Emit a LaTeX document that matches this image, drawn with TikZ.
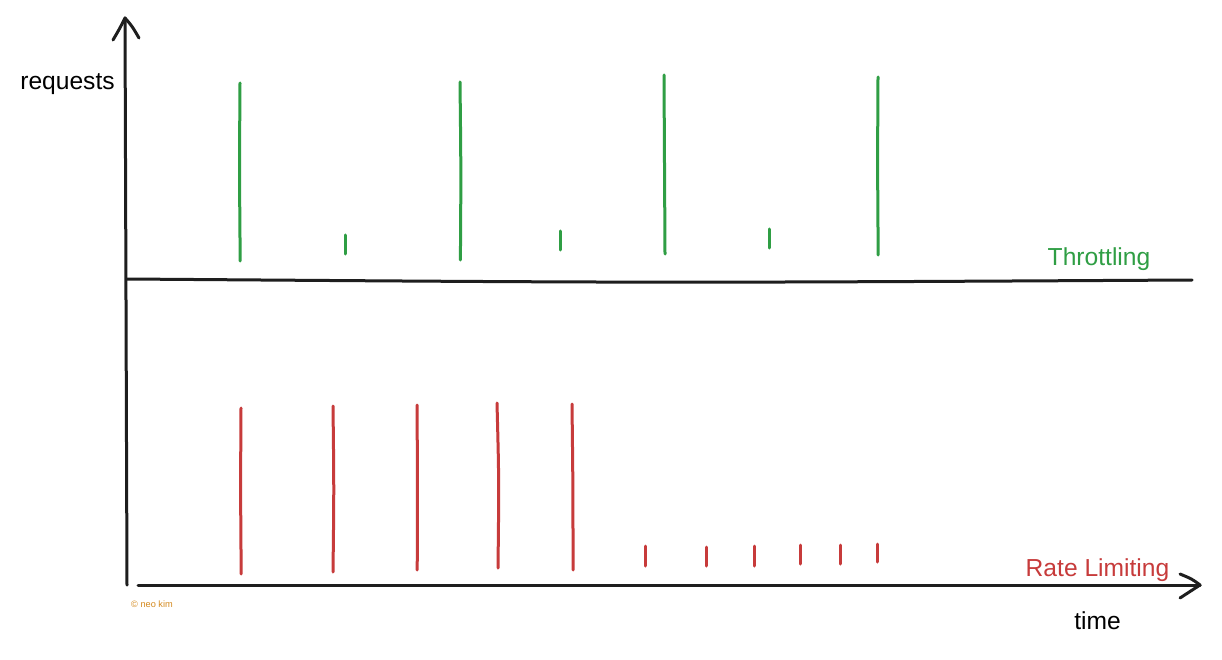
\documentclass[tikz,border=0pt]{standalone}
\usepackage{fontspec}
\setmainfont{Liberation Sans}
\definecolor{axisc}{HTML}{1E1E1E}
\definecolor{thrgreen}{HTML}{2F9E44}
\definecolor{ratered}{HTML}{C73B3B}
\definecolor{credit}{HTML}{D4891E}
\begin{document}
\begin{tikzpicture}[x=1pt,y=-1pt,
  axisline/.style={draw=axisc,line width=3pt,line cap=round,line join=round},
  gbar/.style={draw=thrgreen,line width=3pt,line cap=round},
  rbar/.style={draw=ratered,line width=3pt,line cap=round},
  lbl/.style={font=\fontsize{24.6}{28}\selectfont,inner sep=0pt,anchor=base}]
\useasboundingbox[fill=white] (0,0) rectangle (1222,660);
% axes
\coordinate (yb) at (127,585);
\coordinate (yt) at (125,18);
\coordinate (xl) at (138,585);
\coordinate (xr) at (1200,585);
\coordinate (ml) at (127,279);
\coordinate (mr) at (1192,280);
\draw[axisline] (yb) .. controls (126,300) .. (yt);
\draw[axisline] (113,40) .. controls (120,28) .. (yt) .. controls (132,26) .. (139,38);
\draw[axisline] (xl) -- (xr);
\draw[axisline] (1180,574) .. controls (1192,579) .. (xr) .. controls (1190,592) .. (1180,598);
\draw[axisline] (ml) .. controls (660,283) .. (mr);
% labels
\node[lbl] (req) at (67.5,90) {requests};
\node[lbl,text=thrgreen] (thr) at (1099,265) {Throttling};
\node[lbl,text=ratered] (rl) at (1097.5,576) {Rate Limiting};
\node[lbl] (time) at (1097.5,629) {time};
\node[font=\fontsize{9.2}{11}\selectfont,text=credit,inner sep=0pt,anchor=west] (cr) at (131,604) {© neo kim};
% throttling bars
\draw[gbar] (240,83) .. controls (239.4,170) .. (240.2,261);
\draw[gbar] (345,235) .. controls (345.4,245) .. (345,254);
\draw[gbar] (460,82) .. controls (461,170) .. (460.4,260);
\draw[gbar] (560,231) .. controls (560.4,240) .. (560,250);
\draw[gbar] (664,75) .. controls (664.8,165) .. (665,254);
\draw[gbar] (769,229) .. controls (769.4,238) .. (769,248);
\draw[gbar] (878,77) .. controls (877.5,165) .. (878.2,255);
% rate limiting bars
\draw[rbar] (241,408) .. controls (240.5,490) .. (241.2,574);
\draw[rbar] (333,406) .. controls (334,490) .. (333,572);
\draw[rbar] (417,405) .. controls (417.6,490) .. (417.2,570);
\draw[rbar] (497,403) .. controls (499,480) .. (498,568);
\draw[rbar] (572,404) .. controls (573,490) .. (573,570);
\draw[rbar] (645,546) .. controls (645.4,556) .. (645,566);
\draw[rbar] (706,547) .. controls (706.4,556) .. (706,566);
\draw[rbar] (754,546) .. controls (754.4,556) .. (754,566);
\draw[rbar] (800,545) .. controls (800.4,555) .. (800,564);
\draw[rbar] (840,545) .. controls (840.4,555) .. (840,564);
\draw[rbar] (877,544) .. controls (877.4,553) .. (877,562);
\end{tikzpicture}
\end{document}
